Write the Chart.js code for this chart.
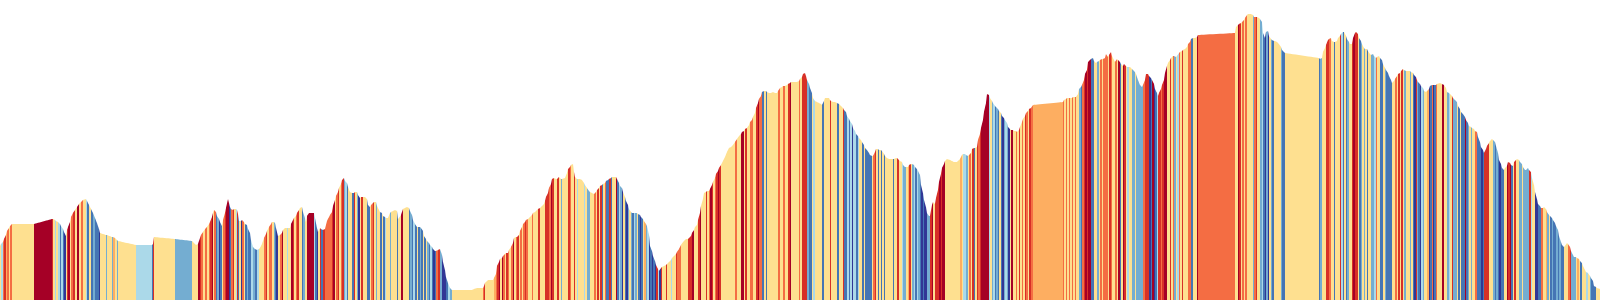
<!DOCTYPE html>
<html>
<head>
<meta charset="utf-8">
<title>Elevation profile</title>
<script src="https://cdn.jsdelivr.net/npm/chart.js@4.4.1/dist/chart.umd.min.js"></script>
<style>
    html, body { margin: 0; padding: 0; background: #ffffff; }
    .chart-wrap { position: relative; width: 1600px; height: 300px; }
</style>
</head>
<body>
<div class="chart-wrap">
    <canvas id="profileChart"></canvas>
</div>
<script>
// Distance along the route (km)
const distKm = [
    0, 0.1, 0.3, 0.4, 0.6, 0.7, 0.9, 1.0, 1.2, 3.4,
    5.2, 5.3, 5.5, 5.6, 5.8, 6.0, 6.1, 6.3, 6.4, 6.6,
    6.7, 6.8, 7.0, 7.1, 7.3, 7.5, 7.7, 7.9, 8.1, 8.3,
    8.6, 8.7, 8.9, 9.1, 9.3, 9.5, 9.7, 9.9, 10.0, 10.6,
    10.7, 11.2, 11.3, 11.5, 11.7, 11.8, 13.6, 15.2, 15.3, 15.4,
    17.5, 19.2, 19.6, 19.8, 20.0, 20.1, 20.3, 20.5, 20.7, 20.9,
    21.0, 21.2, 21.3, 21.4, 21.6, 21.7, 21.9, 22.0, 22.2, 22.3,
    22.5, 22.6, 22.8, 22.9, 23.0, 23.1, 23.3, 23.4, 23.6, 23.7,
    23.8, 23.9, 24.1, 24.2, 24.4, 24.5, 24.7, 24.8, 25.0, 25.1,
    25.3, 25.5, 25.7, 25.9, 26.0, 26.2, 26.4, 26.6, 26.7, 26.9,
    27.1, 27.2, 27.4, 27.5, 27.6, 27.8, 28.0, 28.2, 28.3, 28.5,
    28.7, 28.8, 29.0, 29.1, 29.3, 29.4, 29.6, 29.7, 29.9, 30.0,
    30.2, 30.3, 30.5, 30.6, 30.7, 30.9, 31.4, 31.5, 31.7, 31.8,
    32.0, 32.1, 32.3, 32.5, 32.7, 33.0, 33.2, 33.3, 33.5, 33.6,
    33.8, 33.9, 34.1, 34.2, 34.4, 34.5, 34.7, 34.8, 35.0, 35.2,
    35.4, 35.5, 35.7, 35.8, 36.0, 36.1, 36.3, 36.5, 36.7, 36.8,
    37.0, 37.1, 37.3, 37.4, 37.6, 37.7, 37.9, 38.0, 38.2, 38.3,
    38.5, 38.6, 38.8, 39.0, 39.1, 39.3, 39.5, 39.7, 39.8, 39.9,
    40.1, 40.3, 40.5, 40.7, 40.9, 41.0, 41.2, 41.3, 41.5, 41.7,
    41.8, 42.0, 42.1, 42.3, 42.4, 42.6, 42.7, 42.9, 43.0, 43.2,
    43.3, 43.5, 43.6, 43.8, 44.0, 44.2, 44.3, 44.5, 44.6, 44.8,
    45.0, 45.2, 47.2, 47.4, 47.7, 48.3, 48.4, 48.5, 48.8, 49.3,
    49.4, 49.6, 49.7, 49.9, 50.0, 50.2, 50.3, 50.5, 50.6, 50.8,
    50.9, 51.1, 51.3, 51.4, 51.6, 51.7, 51.9, 52.0, 52.2, 52.3,
    52.5, 52.6, 52.8, 53.0, 53.2, 53.3, 53.5, 53.7, 53.8, 54.0,
    54.2, 54.4, 54.5, 54.6, 54.8, 54.9, 55.1, 55.2, 55.4, 55.6,
    55.7, 55.9, 56.0, 56.1, 56.2, 56.5, 56.7, 56.8, 57.0, 57.1,
    57.3, 57.4, 57.5, 57.7, 57.8, 58.0, 58.2, 58.4, 58.5, 58.7,
    58.9, 59.0, 59.2, 59.4, 59.6, 59.7, 59.9, 60.0, 60.2, 60.3,
    60.5, 60.6, 60.8, 60.9, 61.1, 61.2, 61.4, 61.6, 61.7, 61.9,
    62.0, 62.2, 62.3, 62.5, 62.6, 62.8, 62.9, 63.1, 63.2, 63.4,
    63.5, 63.7, 63.8, 64.0, 64.1, 64.3, 64.4, 64.6, 64.7, 64.9,
    65.0, 65.2, 65.3, 65.5, 65.6, 65.8, 65.9, 66.1, 66.2, 66.4,
    66.6, 66.7, 66.9, 67.1, 67.2, 67.4, 67.6, 67.7, 67.9, 68.1,
    68.3, 68.5, 68.6, 68.8, 68.9, 69.1, 69.2, 69.4, 69.5, 69.7,
    69.8, 70.0, 70.1, 70.3, 70.4, 70.6, 70.7, 70.9, 71.0, 71.2,
    71.3, 71.5, 71.6, 71.8, 71.9, 72.1, 72.3, 72.5, 72.7, 72.9,
    73.1, 73.3, 73.5, 73.7, 73.9, 74.1, 74.2, 74.4, 74.5, 74.7,
    74.9, 75.0, 75.2, 75.3, 75.5, 75.6, 75.8, 75.9, 76.1, 76.2,
    76.4, 76.6, 76.7, 76.9, 77.1, 77.3, 77.5, 77.7, 77.8, 78.0,
    78.2, 78.3, 78.5, 78.7, 78.8, 79.0, 79.1, 79.3, 79.5, 79.7,
    79.9, 80.0, 80.2, 80.3, 80.5, 80.6, 80.7, 80.9, 81.0, 81.2,
    81.3, 81.5, 81.7, 81.9, 82.1, 82.2, 82.4, 82.5, 82.7, 82.9,
    83.0, 83.1, 83.3, 83.5, 83.7, 83.9, 84.1, 84.3, 84.4, 84.6,
    84.7, 84.9, 85.0, 85.2, 85.3, 85.5, 85.6, 85.8, 85.9, 86.1,
    86.2, 86.4, 86.5, 86.7, 86.9, 87.0, 87.2, 87.3, 87.5, 87.6,
    87.8, 87.9, 88.1, 88.2, 88.4, 88.5, 88.7, 88.9, 89.1, 89.3,
    89.4, 89.6, 89.7, 89.9, 90.0, 90.2, 90.3, 90.5, 90.6, 90.8,
    90.9, 91.1, 91.2, 91.4, 91.5, 91.7, 91.8, 92.0, 92.1, 92.3,
    92.4, 92.6, 92.7, 92.9, 93.0, 93.2, 93.3, 93.5, 93.6, 93.8,
    93.9, 94.1, 94.2, 94.4, 94.5, 94.7, 95.0, 95.4, 95.7, 96.0,
    96.2, 96.3, 96.5, 96.6, 96.8, 96.9, 97.1, 97.2, 97.4, 97.5,
    97.7, 97.8, 98.0, 98.1, 98.3, 98.4, 98.6, 98.7, 98.9, 99.0,
    99.2, 99.3, 99.5, 99.6, 99.8, 99.9, 100.1, 100.2, 100.4, 100.5,
    100.7, 100.8, 101.0, 101.1, 101.3, 101.4, 101.6, 101.7, 101.9, 102.0,
    102.2, 102.3, 102.5, 102.6, 102.8, 102.9, 103.1, 103.3, 106.3, 106.4,
    106.6, 106.7, 106.9, 107.0, 107.2, 107.3, 107.5, 107.6, 107.8, 107.9,
    108.1, 108.2, 108.4, 108.5, 108.7, 108.8, 109.0, 109.1, 109.3, 109.4,
    109.6, 109.7, 109.9, 110.0, 110.2, 110.3, 110.5, 110.6, 110.8, 110.9,
    111.1, 111.2, 111.4, 111.5, 111.7, 111.8, 112.0, 112.1, 112.3, 112.4,
    112.6, 112.7, 112.9, 113.0, 113.2, 113.3, 113.5, 113.6, 113.8, 114.0,
    114.2, 114.3, 114.5, 114.6, 114.8, 114.9, 115.1, 115.2, 115.4, 115.5,
    115.7, 115.8, 115.9, 116.1, 116.2, 116.4, 116.5, 116.7, 116.8, 117.0,
    117.1, 117.3, 117.4, 117.6, 117.7, 117.9, 118.0, 118.2, 118.3, 118.5,
    118.7, 118.8, 119.0, 119.1, 119.3, 119.5, 119.7, 119.8, 123.5, 123.6,
    123.8, 123.9, 124.1, 124.2, 124.4, 124.5, 124.7, 124.8, 125.1, 125.3,
    125.4, 125.6, 125.7, 125.9, 126.0, 126.2, 126.3, 126.5, 126.6, 126.8,
    126.9, 127.1, 127.2, 127.4, 127.5, 127.7, 127.9, 128.1, 128.2, 128.4,
    128.5, 131.9, 132.0, 132.2, 132.3, 132.5, 132.6, 132.8, 132.9, 133.1,
    133.2, 133.4, 133.5, 133.7, 133.8, 134.0, 134.1, 134.3, 134.4, 134.6,
    134.7, 134.9, 135.0, 135.2, 135.3, 135.5, 135.6, 135.8, 135.9, 136.1,
    136.2, 136.4, 136.5, 136.7, 136.8, 137.0, 137.1, 137.3, 137.4, 137.6,
    137.7, 137.9, 138.0, 138.2, 138.3, 138.5, 138.6, 138.8, 138.9, 139.1,
    139.2, 139.4, 139.5, 139.7, 139.8, 140.0, 140.1, 140.3, 140.4, 140.6,
    140.8, 141.0, 141.1, 141.3, 141.4, 141.6, 141.7, 141.8, 142.0, 142.1,
    142.3, 142.4, 142.6, 142.7, 142.9, 143.0, 143.2, 143.3, 143.4, 143.6,
    143.7, 144.0, 144.2, 144.4, 144.6, 144.7, 144.9, 145.0, 145.2, 145.3,
    145.5, 145.7, 145.8, 146.0, 146.1, 146.3, 146.5, 146.6, 146.8, 146.9,
    147.1, 147.2, 147.4, 147.5, 147.7, 147.8, 148.0, 148.1, 148.3, 148.4,
    148.6, 148.7, 148.9, 149.0, 149.2, 149.3, 149.5, 149.6, 149.8, 149.9,
    150.1, 150.2, 150.4, 150.5, 150.7, 150.8, 151.0, 151.1, 151.3, 151.4,
    151.6, 151.7, 151.9, 152.0, 152.2, 152.3, 152.5, 152.6, 152.8, 152.9,
    153.1, 153.2, 153.4, 153.5, 153.7, 153.8, 154.0, 154.1, 154.3, 154.4,
    154.6, 154.7, 154.9, 155.0, 155.2, 155.3, 155.5, 155.6, 155.8, 155.9,
    156.1, 156.2, 156.4, 156.5, 156.7, 156.8, 157.0, 157.1, 157.3, 157.4,
    157.6, 157.7, 157.9, 158.0, 158.2, 158.3, 158.5, 158.6, 158.8, 159.0,
    159.1, 159.3, 159.4, 159.6, 159.7, 160.0
];

// Elevation (m), same order as distKm
const elevM = [
    540, 560, 580, 610, 650, 690, 720, 740, 760, 760,
    810, 810, 800, 790, 780, 760, 740, 710, 680, 640,
    700, 730, 780, 830, 870, 900, 930, 960, 980, 1000,
    1010, 990, 950, 910, 870, 820, 770, 710, 670, 650,
    650, 630, 630, 620, 600, 590, 550, 550, 560, 630,
    610, 590, 550, 560, 620, 650, 680, 710, 730, 760,
    780, 830, 870, 900, 880, 840, 810, 780, 740, 800,
    870, 920, 1010, 970, 930, 910, 900, 910, 910, 900,
    860, 790, 790, 800, 780, 760, 750, 710, 670, 600,
    530, 510, 500, 510, 520, 560, 620, 660, 690, 730,
    760, 780, 780, 770, 720, 640, 650, 670, 700, 720,
    720, 720, 720, 760, 800, 820, 840, 870, 900, 920,
    930, 880, 820, 780, 840, 870, 870, 820, 720, 680,
    720, 710, 700, 710, 790, 850, 880, 940, 1000, 1040,
    1080, 1120, 1160, 1200, 1220, 1190, 1170, 1130, 1080, 1070,
    1070, 1080, 1080, 1050, 1020, 1030, 1030, 1030, 1010, 950,
    930, 950, 970, 980, 980, 940, 900, 880, 870, 840,
    830, 820, 820, 870, 880, 890, 900, 890, 810, 820,
    850, 910, 920, 930, 920, 890, 850, 800, 760, 730,
    730, 730, 720, 690, 640, 610, 590, 570, 550, 530,
    510, 490, 490, 500, 510, 450, 380, 300, 230, 170,
    120, 100, 100, 110, 120, 120, 140, 170, 200, 200,
    220, 260, 340, 380, 410, 420, 440, 460, 470, 470,
    500, 530, 570, 620, 630, 630, 650, 690, 730, 760,
    780, 800, 810, 830, 850, 870, 880, 900, 910, 920,
    940, 960, 990, 1030, 1070, 1120, 1160, 1210, 1220, 1210,
    1210, 1230, 1220, 1210, 1210, 1220, 1270, 1310, 1330, 1350,
    1360, 1280, 1230, 1210, 1210, 1210, 1200, 1170, 1150, 1120,
    1090, 1080, 1070, 1060, 1080, 1100, 1120, 1140, 1150, 1160,
    1170, 1190, 1200, 1210, 1220, 1230, 1230, 1230, 1210, 1170,
    1140, 1120, 1080, 1030, 990, 950, 910, 880, 870, 870,
    870, 870, 860, 850, 830, 810, 790, 760, 740, 650,
    540, 490, 440, 390, 350, 310, 290, 320, 330, 340,
    350, 360, 380, 400, 420, 440, 460, 480, 510, 550,
    580, 600, 610, 610, 620, 640, 670, 700, 730, 750,
    800, 870, 940, 1010, 1070, 1080, 1090, 1090, 1110, 1150,
    1180, 1220, 1260, 1290, 1320, 1350, 1390, 1430, 1480, 1520,
    1530, 1550, 1580, 1610, 1640, 1660, 1680, 1690, 1710, 1720,
    1750, 1780, 1800, 1830, 1870, 1920, 1970, 2010, 2040, 2080,
    2090, 2090, 2080, 2070, 2070, 2080, 2070, 2070, 2090, 2120,
    2130, 2140, 2140, 2150, 2160, 2170, 2180, 2180, 2180, 2180,
    2190, 2210, 2230, 2260, 2270, 2240, 2200, 2160, 2120, 2070,
    2020, 1990, 1980, 1970, 1960, 1950, 1990, 2020, 2020, 2020,
    2000, 1990, 1980, 1980, 1970, 1960, 1940, 1920, 1900, 1880,
    1840, 1810, 1790, 1760, 1720, 1690, 1660, 1640, 1620, 1600,
    1580, 1550, 1520, 1500, 1470, 1450, 1440, 1440, 1480, 1510,
    1510, 1500, 1500, 1490, 1460, 1440, 1420, 1410, 1410, 1410,
    1410, 1420, 1420, 1400, 1390, 1380, 1350, 1330, 1330, 1330,
    1350, 1360, 1360, 1350, 1330, 1310, 1290, 1250, 1150, 1070,
    1000, 930, 870, 840, 840, 950, 980, 960, 1020, 1100,
    1180, 1260, 1320, 1360, 1390, 1410, 1400, 1380, 1380, 1410,
    1450, 1460, 1460, 1450, 1440, 1450, 1470, 1510, 1520, 1520,
    1530, 1600, 1660, 1720, 1800, 1880, 1970, 2060, 2050, 2020,
    1990, 1970, 1940, 1930, 1910, 1890, 1870, 1840, 1820, 1800,
    1770, 1730, 1710, 1700, 1700, 1690, 1690, 1680, 1700, 1730,
    1780, 1810, 1840, 1870, 1890, 1910, 1920, 1950, 1980, 2000,
    2010, 2020, 2020, 2020, 2020, 2030, 2030, 2030, 2060, 2110,
    2130, 2150, 2200, 2260, 2300, 2380, 2400, 2410, 2420, 2390,
    2370, 2380, 2390, 2400, 2410, 2410, 2420, 2460, 2430, 2450,
    2480, 2440, 2400, 2380, 2410, 2400, 2380, 2360, 2340, 2360,
    2340, 2330, 2330, 2330, 2310, 2300, 2280, 2260, 2200, 2150,
    2130, 2150, 2200, 2260, 2260, 2240, 2220, 2200, 2160, 2110,
    2070, 2040, 2070, 2110, 2150, 2200, 2270, 2340, 2370, 2400,
    2420, 2440, 2440, 2430, 2440, 2470, 2480, 2490, 2500, 2510,
    2530, 2560, 2580, 2610, 2620, 2620, 2630, 2650, 2670, 2730,
    2750, 2760, 2770, 2780, 2800, 2820, 2850, 2860, 2860, 2850,
    2830, 2830, 2830, 2820, 2810, 2780, 2670, 2620, 2680, 2690,
    2640, 2610, 2600, 2590, 2590, 2580, 2560, 2530, 2500, 2480,
    2470, 2420, 2410, 2420, 2480, 2520, 2550, 2600, 2610, 2620,
    2590, 2580, 2580, 2590, 2620, 2640, 2660, 2680, 2680, 2640,
    2610, 2580, 2560, 2560, 2620, 2670, 2680, 2660, 2620, 2590,
    2560, 2520, 2510, 2510, 2490, 2460, 2450, 2460, 2440, 2420,
    2430, 2440, 2420, 2400, 2360, 2320, 2300, 2270, 2240, 2200,
    2170, 2190, 2210, 2240, 2260, 2270, 2290, 2310, 2300, 2290,
    2290, 2290, 2280, 2270, 2250, 2230, 2200, 2180, 2160, 2140,
    2120, 2090, 2080, 2090, 2110, 2140, 2150, 2150, 2150, 2150,
    2160, 2170, 2160, 2150, 2120, 2080, 2070, 2060, 2040, 2020,
    2000, 1980, 1940, 1910, 1880, 1860, 1830, 1800, 1770, 1740,
    1730, 1720, 1710, 1690, 1680, 1630, 1580, 1530, 1500, 1470,
    1510, 1540, 1570, 1590, 1610, 1600, 1580, 1540, 1470, 1400,
    1360, 1320, 1300, 1320, 1340, 1380, 1370, 1350, 1340, 1380,
    1400, 1410, 1400, 1380, 1360, 1330, 1300, 1300, 1320, 1300,
    1280, 1220, 1150, 1080, 1010, 960, 940, 920, 920, 930,
    910, 880, 850, 840, 820, 800, 770, 740, 700, 640,
    580, 550, 530, 540, 570, 560, 530, 490, 450, 430,
    430, 420, 410, 390, 370, 340, 300, 280, 270, 240,
    220, 190, 140, 130, 120, 110
];

// Gradient band of each stretch (0 = steep descent ... 8 = steep climb),
// one digit per point, the stretch runs from that point to the next one
const gradeBand = [
    "4367564648", "7434313104", "7846748464", "3141211042", "4254243174",
    "2448764646", "7846120146", "7880167437", "1406412113", "2134446746",
    "6421046844", "3448746744", "1244883104", "7176667846", "7467231441",
    "7420474411", "4674244141", "3442444144", "8444121314", "1214142131",
    "0167200013", "2444467444", "5678486476", "4684674646", "7644644474",
    "4477768744", "7442444764", "4743444342", "2446474714", "6117144813",
    "2041024213", "2410145230", "1010730744", "7443447664", "4447778444",
    "7844474687", "4678744444", "4464488474", "4664478661", "4144444464",
    "4644784444", "6477772114", "3444414444", "7444144711", "3130331344",
    "1411114674", "1414144441", "4474432245", "7423132101", "0022784777",
    "8788444445", "4332464714", "7678888834", "2312141023", "2048446474",
    "6476476564", "6464646442", "1678788114", "4246466647", "6446481487",
    "4344224222", "2677701801", "3776788447", "4624364744", "4661448644",
    "8746464442", "6744231020", "4214444211", "4124447764", "4144473141",
    "2447877412", "4241442236", "4411421111", "4464747424", "4241072103",
    "2445016016", "4484423472", "2414118124", "2446111017", "7744421210",
    "1144878147", "4422422227", "3440011644", "5241211212", "1144467222",
    "4541444342", "111444"
].join("");

// RdYlBu, blue for descents, red for climbs
const bandColors = [
    "#313695", "#4575b4", "#74add1", "#abd9e9", "#fee090",
    "#fdae61", "#f46d43", "#d73027", "#a50026"
];

const points = distKm.map((d, i) => ({ x: d, y: elevM[i] }));

const ctx = document.getElementById("profileChart").getContext("2d");
const profileChart = new Chart(ctx, {
    type: "line",
    data: {
        datasets: [{
            label: "Elevation",
            data: points,
            fill: "start",
            borderWidth: 0,
            pointRadius: 0,
            pointHoverRadius: 0,
            // a tiny tension keeps the lines straight but skips the fast path,
            // which merges points that fall into the same pixel column
            tension: 0.0001,
            backgroundColor: bandColors[4],
            segment: {
                backgroundColor: (c) => bandColors[Number(gradeBand[c.p0DataIndex])]
            }
        }]
    },
    options: {
        responsive: true,
        maintainAspectRatio: false,
        animation: false,
        layout: { padding: 0 },
        events: [],
        plugins: {
            legend: { display: false },
            tooltip: { enabled: false }
        },
        scales: {
            x: { type: "linear", min: 0, max: 160, display: false },
            y: { min: 0, max: 3000, display: false }
        }
    }
});
</script>
</body>
</html>
